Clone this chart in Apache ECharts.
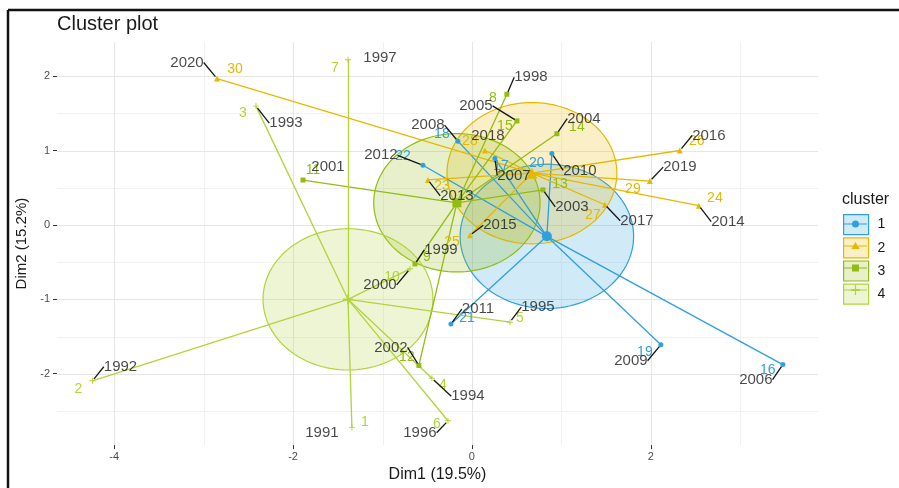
<!DOCTYPE html>
<html>
<head>
<meta charset="utf-8">
<script src="https://cdn.jsdelivr.net/npm/echarts@6/dist/echarts.min.js"></script>
<style>
  html, body { margin: 0; padding: 0; background: #fff; }
  #chart { width: 899px; height: 488px; }
</style>
</head>
<body>
<div id="chart"></div>
<script>
// Observations (one per year) on the first two principal dimensions
const obsLabels = ['1991','1992','1993','1994','1995','1996','1997','1998','1999','2000',
                   '2001','2002','2003','2004','2005','2006','2007','2008','2009','2010',
                   '2011','2012','2013','2014','2015','2016','2017','2018','2019','2020'];
const dim1 = [-1.342, -4.243, -2.415, -0.447, 0.425, -0.268, -1.386, 0.391, -0.637, -0.693,
              -1.889, -0.593, 0.794, 0.950, 0.503, 3.477, 0.257, -0.157, 2.113, 0.894,
              -0.235, -0.548, -0.492, 2.538, -0.022, 2.325, 1.487, 0.145, 1.990, -2.851];
const dim2 = [-2.725, -2.095, 1.598, -2.062, -1.307, -2.633, 2.221, 1.757, -0.524, -0.590,
              0.604, -1.889, 0.471, 1.227, 1.399, -1.877, 0.895, 1.127, -1.611, 0.961,
              -1.333, 0.802, 0.605, 0.259, -0.139, 1.001, 0.272, 1.001, 0.590, 1.969];
const clusterOf = [4, 4, 4, 4, 4, 4, 4, 3, 3, 4,
                   3, 3, 3, 3, 3, 1, 1, 1, 1, 1,
                   1, 1, 2, 2, 2, 2, 2, 2, 2, 2];

// Cluster centres and circle radii
const clusterNames = ['1', '2', '3', '4'];
const centerDim1 = [0.838, 0.671, -0.168, -1.386];
const centerDim2 = [-0.153, 0.696, 0.298, -1.000];
const circleRadius = [0.97, 0.95, 0.93, 0.95];

// Axis ticks and grid
const xTicks = [-4, -2, 0, 2];
const yTicks = [-2, -1, 0, 1, 2];
const xGridMajor = [-4, -2, 0, 2];
const xGridMinor = [-3, -1, 1, 3];
const yGridMajor = [-2, -1, 0, 1, 2];
const yGridMinor = [-2.5, -1.5, -0.5, 0.5, 1.5];

// ---- styling / layout ----
const colors = ['#2E9FDF', '#E7B800', '#93BC12', '#B2D33A'];
const fills = ['rgba(46,159,223,0.22)', 'rgba(231,184,0,0.22)', 'rgba(147,188,18,0.22)', 'rgba(178,211,58,0.22)'];
const plusPath = 'path://M4.2 0h1.6v10h-1.6zM0 4.2h10v1.6h-10z';
const pointSymbols = ['circle', 'triangle', 'rect', plusPath];
const pointSizes = [5, 6, 5, 6];
const centerSizes = [10, 11, 9, 10];

// label offsets in pixels (dx, dy) for the index numbers and the year tags
const indexShift = [[13,-5],[-14,8],[-13,7],[11,7],[10,-4],[-11,3],[-13,8],[-14,4],[12,-7],[-18,8],
                    [10,-10],[-12,-8],[17,-6],[20,-7],[-12,5],[-15,6],[6,8],[-16,-7],[-16,7],[-15,10],
                    [16,-6],[-20,-9],[14,6],[16,-8],[-18,7],[17,-9],[-12,10],[-15,-9],[-17,8],[18,-9]];
const yearShift = [[-30,5],[28,-14],[30,17],[36,18],[28,-15],[-28,12],[32,-2],[24,-17],[26,-14],[-30,16],
                   [25,-13],[-28,-18],[29,17],[27,-15],[-41,-15],[-27,15],[19,17],[-30,-16],[-30,16],[28,17],
                   [27,-15],[-42,-10],[29,16],[29,16],[30,-10],[29,-15],[32,16],[3,-15],[30,-14],[-30,-16]];
const noSegment = ['1991', '1997', '2001', '2018'];

const FONT = '"Liberation Sans", Arial, Helvetica, sans-serif';

const members = clusterNames.map((_, k) =>
  clusterOf.map((c, i) => (c === k + 1 ? i : -1)).filter(i => i >= 0));

const series = [];

// background grid lines
function gridSeries(values, vertical, color) {
  return {
    type: 'custom', silent: true, z: 0,
    data: values.map(v => (vertical ? [v, 0] : [0, v])),
    renderItem: (params, api) => {
      const cs = params.coordSys;
      if (vertical) {
        const x = Math.round(api.coord([api.value(0), 0])[0]) + 0.5;
        return { type: 'line', shape: { x1: x, y1: cs.y, x2: x, y2: cs.y + cs.height },
                 style: { stroke: color, lineWidth: 1 } };
      }
      const y = Math.round(api.coord([0, api.value(1)])[1]) + 0.5;
      return { type: 'line', shape: { x1: cs.x, y1: y, x2: cs.x + cs.width, y2: y },
               style: { stroke: color, lineWidth: 1 } };
    }
  };
}
series.push(gridSeries(xGridMinor, true, '#f1f1f1'));
series.push(gridSeries(yGridMinor, false, '#f1f1f1'));
series.push(gridSeries(xGridMajor, true, '#e6e6e6'));
series.push(gridSeries(yGridMajor, false, '#e6e6e6'));

// cluster circles
clusterNames.forEach((name, k) => {
  series.push({
    name, type: 'custom', silent: true, z: 1,
    dimensions: ['x', 'y', 'r'],
    encode: { x: 0, y: 1 },
    data: [[centerDim1[k], centerDim2[k], circleRadius[k]]],
    renderItem: (params, api) => {
      const c = api.coord([api.value(0), api.value(1)]);
      const s = api.size([api.value(2), api.value(2)]);
      const pts = [];
      for (let j = 0; j < 120; j++) {
        const t = (j / 120) * Math.PI * 2;
        pts.push([c[0] + s[0] * Math.cos(t), c[1] + s[1] * Math.sin(t)]);
      }
      return { type: 'polygon', shape: { points: pts },
               style: { fill: fills[k], stroke: colors[k], lineWidth: 1.2 } };
    }
  });
});

// star segments from each centre to its members
clusterNames.forEach((name, k) => {
  series.push({
    name, type: 'lines', coordinateSystem: 'cartesian2d', silent: true, z: 2,
    lineStyle: { color: colors[k], width: 1.3, opacity: 1 },
    data: members[k].map(i => ({ coords: [[centerDim1[k], centerDim2[k]], [dim1[i], dim2[i]]] }))
  });
});

// observation points with their index numbers
clusterNames.forEach((name, k) => {
  series.push({
    name, type: 'scatter', z: 3,
    symbol: pointSymbols[k], symbolSize: pointSizes[k],
    itemStyle: { color: colors[k], opacity: 1 },
    data: members[k].map(i => [dim1[i], dim2[i]]),
    label: {
      show: true, position: 'inside',
      formatter: p => String(members[k][p.dataIndex] + 1),
      color: colors[k], fontSize: 14, fontFamily: FONT
    },
    labelLayout: p => {
      const o = indexShift[members[k][p.dataIndex]];
      return { dx: o[0], dy: o[1] };
    }
  });
});

// cluster centres
clusterNames.forEach((name, k) => {
  series.push({
    name, type: 'scatter', z: 4,
    symbol: pointSymbols[k], symbolSize: centerSizes[k],
    itemStyle: { color: colors[k], opacity: 1 },
    data: [[centerDim1[k], centerDim2[k]]]
  });
});

// year tags with leader segments
series.push({
  type: 'scatter', z: 5, silent: true,
  symbol: 'circle', symbolSize: 5,
  itemStyle: { color: 'rgba(0,0,0,0)' },
  data: obsLabels.map((lab, i) => ({
    value: [dim1[i], dim2[i]], name: lab,
    labelLine: { show: noSegment.indexOf(lab) < 0 }
  })),
  label: {
    show: true, position: 'inside', formatter: p => p.name,
    color: '#1a1a1a', fontSize: 15, fontFamily: FONT
  },
  labelLine: { show: true, lineStyle: { color: '#151515', width: 1.3 } },
  labelLayout: p => ({ dx: yearShift[p.dataIndex][0], dy: yearShift[p.dataIndex][1] })
});

const keyPaths = [
  'path://M0 0h0.01v0.01h-0.01zM24.99 19.99h0.01v0.01h-0.01zM1 9.4h23v1.2h-23zM16 10a3.5 3.5 0 1 1 -7 0a3.5 3.5 0 1 1 7 0z',
  'path://M0 0h0.01v0.01h-0.01zM24.99 19.99h0.01v0.01h-0.01zM1 9.4h23v1.2h-23zM12.5 6l4.2 7h-8.4z',
  'path://M0 0h0.01v0.01h-0.01zM24.99 19.99h0.01v0.01h-0.01zM1 9.4h23v1.2h-23zM9 6.5h7v7h-7z',
  'path://M0 0h0.01v0.01h-0.01zM24.99 19.99h0.01v0.01h-0.01zM1 9.4h23v1.2h-23zM11.9 5h1.2v10h-1.2zM8 9.1h9v1.8h-9z'
];

const legendBase = {
  orient: 'vertical', left: 843, top: 214,
  itemWidth: 25, itemHeight: 20, itemGap: 2,
  selectedMode: false, padding: 0
};

const option = {
  animation: false,
  textStyle: { fontFamily: FONT },
  title: [
    { text: 'Cluster plot', left: 57, top: 14, padding: 0,
      textStyle: { fontSize: 20, fontWeight: 'normal', color: '#1a1a1a', fontFamily: FONT } },
    { text: 'cluster', left: 842, top: 192, padding: 0,
      textStyle: { fontSize: 16, fontWeight: 'normal', color: '#1a1a1a', fontFamily: FONT } }
  ],
  graphic: [
    { type: 'line', shape: { x1: 8, y1: 10, x2: 899, y2: 10 }, style: { stroke: '#111', lineWidth: 2.5 } },
    { type: 'line', shape: { x1: 8, y1: 10, x2: 8, y2: 488 }, style: { stroke: '#111', lineWidth: 2.5 } }
  ],
  legend: [
    Object.assign({}, legendBase, {
      data: clusterNames.map((n, k) => ({
        name: n, icon: 'rect',
        itemStyle: { color: fills[k], borderColor: colors[k], borderWidth: 1.2 }
      })),
      textStyle: { fontSize: 14, color: '#1a1a1a', padding: [0, 0, 0, 4] }
    }),
    Object.assign({}, legendBase, {
      data: clusterNames.map((n, k) => ({
        name: n, icon: keyPaths[k],
        itemStyle: { color: colors[k], borderWidth: 0 }
      })),
      textStyle: { fontSize: 14, color: 'rgba(0,0,0,0)', padding: [0, 0, 0, 4] }
    })
  ],
  grid: { left: 57, right: 81, top: 42, bottom: 37 },
  xAxis: {
    type: 'value', min: -4.64, max: 3.87,
    axisLine: { show: false, onZero: false }, splitLine: { show: false },
    axisTick: { show: true, customValues: xTicks, length: 4, lineStyle: { color: '#333' } },
    axisLabel: { customValues: xTicks, color: '#4d4d4d', fontSize: 11, margin: 6 },
    name: 'Dim1 (19.5%)', nameLocation: 'middle', nameGap: 19,
    nameTextStyle: { fontSize: 16, color: '#1a1a1a' }
  },
  yAxis: {
    type: 'value', min: -2.96, max: 2.46,
    axisLine: { show: false, onZero: false }, splitLine: { show: false },
    axisTick: { show: true, customValues: yTicks, length: 4, lineStyle: { color: '#333' } },
    axisLabel: { customValues: yTicks, color: '#4d4d4d', fontSize: 11, margin: 7 },
    name: 'Dim2 (15.2%)', nameLocation: 'middle', nameGap: 24,
    nameTextStyle: { fontSize: 15, color: '#1a1a1a' }
  },
  series
};

const chart = echarts.init(document.getElementById('chart'), null, { renderer: 'canvas' });
chart.setOption(option);
</script>
</body>
</html>
